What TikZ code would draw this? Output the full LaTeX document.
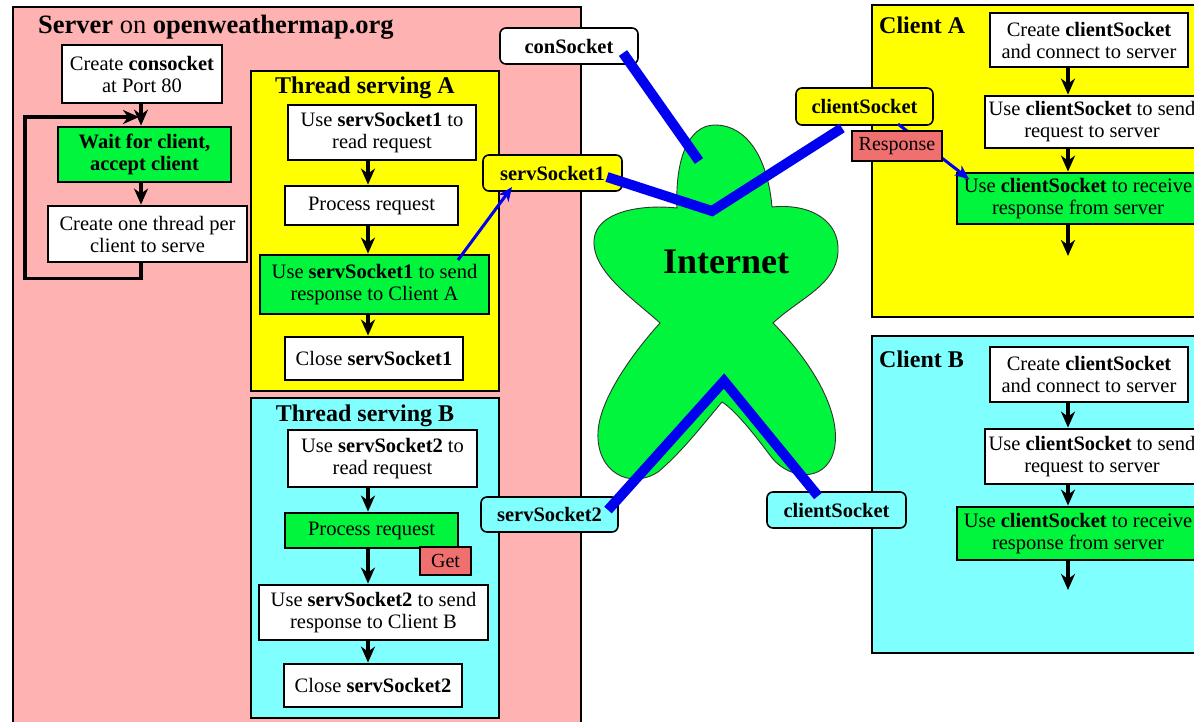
\documentclass[tikz,border=0pt]{standalone}
\usepackage{fontspec}
\setmainfont{Liberation Serif}
\usetikzlibrary{arrows.meta,calc}

\definecolor{srvpink}{RGB}{255,178,178}
\definecolor{thrA}{RGB}{255,255,0}
\definecolor{thrB}{RGB}{128,255,255}
\definecolor{netgreen}{RGB}{0,245,60}
\definecolor{tagred}{RGB}{240,112,112}
\definecolor{wireblue}{RGB}{0,0,240}

\begin{document}
\begin{tikzpicture}[x=1pt,y=-1pt,
  sz/.style 2 args={minimum width=#1pt,minimum height=#2pt},
  box/.style={draw=black,line width=2.8pt,fill=white,inner sep=0pt,align=center,
              font=\fontsize{20.5}{22}\selectfont},
  gbox/.style={box,fill=netgreen},
  panel/.style={draw=black,line width=2.4pt,inner sep=0pt,anchor=north west},
  ptitle/.style={font=\bfseries\fontsize{24}{26}\selectfont,inner sep=0pt,anchor=base},
  lbl/.style={draw=black,line width=1.6pt,rounded corners=6pt,inner sep=0pt,
              font=\bfseries\fontsize{20.5}{22}\selectfont},
  tag/.style={draw=black,line width=2pt,fill=tagred,inner sep=0pt,
              font=\fontsize{20}{22}\selectfont},
  flow/.style={line width=3.2pt,-{Stealth[length=16pt,width=14pt,inset=5pt]}},
  wire/.style={draw=wireblue,line width=10pt,line cap=butt,line join=miter},
  ptr/.style={draw=wireblue,line width=3pt,-{Stealth[length=14pt,width=12pt,inset=4pt]}}]

\useasboundingbox (0,0) rectangle (1194,721);
\clip (0,0) rectangle (1194,721);
\fill[white] (0,0) rectangle (1194,721);

% ---------------- server side ----------------
\node[panel,fill=srvpink,sz={568}{740}] (server) at (12,6) {};
\node[font=\fontsize{26.5}{28}\selectfont,inner sep=0pt,anchor=base west] (srvtitle) at (38,33)
  {\textbf{Server} on \textbf{openweathermap.org}};

\coordinate (sax) at (141,0);
\node[box,sz={160}{58}] (consock) at (142,74) {Create \textbf{consocket}\\at Port 80};
\node[gbox,sz={173}{55},font=\bfseries\fontsize{20.5}{22}\selectfont] (wait) at (144.5,154.5)
  {Wait for client,\\accept client};
\node[box,sz={199}{56}] (spawn) at (147.5,234) {Create one thread per\\client to serve};

\draw[flow] (consock.south -| sax) -- (wait.north -| sax);
\draw[flow] (wait.south -| sax) -- (spawn.north -| sax);
\coordinate (loopin) at (139,117);
\draw[flow,line join=miter] (spawn.south -| sax) -- ++(0,15) -| (25,117) -- (loopin);

% ---------------- thread serving A ----------------
\node[panel,fill=thrA,sz={248}{320}] (thA) at (250,70) {};
\node[ptitle] (thAtitle) at (365,93) {Thread serving A};
\coordinate (tax) at (368,0);
\node[box,sz={188}{55}] (a1) at (382,132.5) {Use \textbf{servSocket1} to\\read request};
\node[box,sz={173}{39}] (a2) at (371.5,205.5) {Process request};
\node[gbox,sz={229}{59}] (a3) at (374.5,284.5) {Use \textbf{servSocket1} to send\\response to Client A};
\node[box,sz={178}{43}] (a4) at (374,358.5) {Close \textbf{servSocket1}};
\draw[flow] (a1.south -| tax) -- (a2.north -| tax);
\draw[flow] (a2.south -| tax) -- (a3.north -| tax);
\draw[flow] (a3.south -| tax) -- (a4.north -| tax);

% ---------------- thread serving B ----------------
\node[panel,fill=thrB,sz={248}{320}] (thB) at (250,397) {};
\node[ptitle] (thBtitle) at (365,421) {Thread serving B};
\node[box,sz={189}{57}] (b1) at (382.5,458.5) {Use \textbf{servSocket2} to\\read request};
\node[gbox,sz={173}{35}] (b2) at (371.5,530.5) {Process request};
\node[box,sz={229}{55}] (b3) at (373.5,612.5) {Use \textbf{servSocket2} to send\\response to Client B};
\node[box,sz={178}{43}] (b4) at (373,685.5) {Close \textbf{servSocket2}};
\draw[flow] (b1.south -| tax) -- (b2.north -| tax);
\draw[flow] (b2.south -| tax) -- (b3.north -| tax);
\draw[flow] (b3.south -| tax) -- (b4.north -| tax);
\node[tag,sz={51}{28}] (get) at (445.5,561) {Get};

% ---------------- client A ----------------
\node[panel,fill=thrA,sz={340}{312}] (cliA) at (871,4) {};
\node[ptitle,anchor=base west] (cliAtitle) at (879,33) {Client A};
\coordinate (cax) at (1068,0);
\node[box,sz={198}{54}] (ca1) at (1089,40) {Create \textbf{clientSocket}\\and connect to server};
\node[box,sz={214}{52}] (ca2) at (1092,122) {Use \textbf{clientSocket} to send\\request to server};
\node[gbox,sz={242}{51}] (ca3) at (1078,198.5) {Use \textbf{clientSocket} to receive\\response from server};
\coordinate (caend) at (1068,256);
\draw[flow] (ca1.south -| cax) -- (ca2.north -| cax);
\draw[flow] (ca2.south -| cax) -- (ca3.north -| cax);
\draw[flow] (ca3.south -| cax) -- (caend);

% ---------------- client B ----------------
\node[panel,fill=thrB,sz={340}{317}] (cliB) at (871,335) {};
\node[ptitle,anchor=base west] (cliBtitle) at (879,367) {Client B};
\node[box,sz={198}{55}] (cb1) at (1089,374.5) {Create \textbf{clientSocket}\\and connect to server};
\node[box,sz={214}{55}] (cb2) at (1092,456.5) {Use \textbf{clientSocket} to send\\request to server};
\node[gbox,sz={242}{53}] (cb3) at (1078,533.5) {Use \textbf{clientSocket} to receive\\response from server};
\coordinate (cbend) at (1068,590);
\draw[flow] (cb1.south -| cax) -- (cb2.north -| cax);
\draw[flow] (cb2.south -| cax) -- (cb3.north -| cax);
\draw[flow] (cb3.south -| cax) -- (cbend);

% ---------------- the Internet cloud ----------------
\draw[fill=netgreen,draw=black!80,line width=0.9pt]
  (715,125)
  .. controls (748,125) and (768,160) .. (772,207)
  .. controls (812,203) and (840,222) .. (838,252)
  .. controls (836,285) and (800,298) .. (773,323)
  .. controls (805,355) and (840,405) .. (835,445)
  .. controls (830,482) and (792,482) .. (772,458)
  .. controls (755,435) and (735,410) .. (722,402)
  .. controls (705,422) and (682,452) .. (658,472)
  .. controls (630,490) and (596,472) .. (598,432)
  .. controls (600,395) and (640,345) .. (660,323)
  .. controls (635,300) and (592,272) .. (594,240)
  .. controls (596,212) and (640,204) .. (677,208)
  .. controls (675,160) and (688,125) .. (715,125) -- cycle;
\node[font=\bfseries\fontsize{36}{38}\selectfont,inner sep=0pt,anchor=base] (net) at (726,273) {Internet};

% ---------------- socket labels ----------------
\node[lbl,fill=white,sz={138}{36}] (conlbl) at (569,46) {conSocket};
\node[lbl,fill=thrA,sz={139}{36}] (s1lbl) at (552.5,173) {servSocket1};
\node[lbl,fill=thrA,sz={137}{37}] (calbl) at (864.5,106.5) {clientSocket};
\node[lbl,fill=thrB,sz={137}{35}] (s2lbl) at (549.5,514.5) {servSocket2};
\node[lbl,fill=thrB,sz={139}{36}] (cblbl) at (836.5,510) {clientSocket};

% ---------------- connections through the Internet ----------------
\coordinate (conin) at (623,53);
\coordinate (conend) at (699,161);
\coordinate (hubA) at (712,211);
\coordinate (hubB) at (724,381);
\coordinate (s1in) at (607,177);
\coordinate (cain) at (842,128);
\coordinate (s2in) at (608,510);
\coordinate (cbin) at (818,496);
\draw[wire] (conin) -- (conend);
\draw[wire] (s1in) -- (hubA) -- (cain);
\draw[wire] (s2in) -- (hubB) -- (cbin);

% ---------------- data pointers ----------------
\coordinate (a3out) at (458,260);
\coordinate (s1tip) at (512,187);
\draw[ptr] (a3out) -- (s1tip);
\coordinate (caout) at (898,124);
\coordinate (ca3tip) at (969,179);
\draw[ptr] (caout) -- (ca3tip);
\node[tag,sz={90}{30}] (resp) at (897,146) {Response};

\end{tikzpicture}
\end{document}
